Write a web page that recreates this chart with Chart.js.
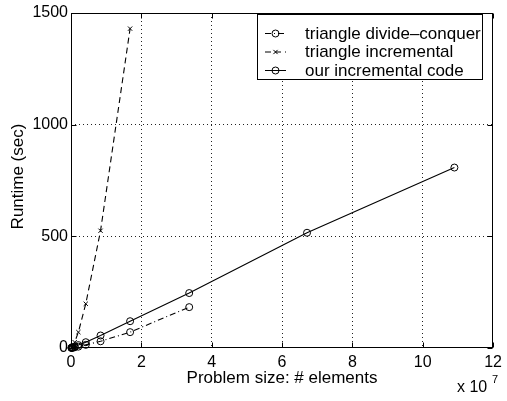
<!DOCTYPE html>
<html><head><meta charset="utf-8">
<script src="https://cdn.jsdelivr.net/npm/chart.js@4.4.0/dist/chart.umd.min.js"></script>
<style>html,body{margin:0;padding:0;background:#fff}#c{display:block}</style>
</head><body>
<canvas id="c" width="507" height="401"></canvas>
<script>
// ---- data ----
const seriesNames = ['triangle divide\u2013conquer', 'triangle incremental', 'our incremental code'];
const dcSizes  = [0.0131e7, 0.0262e7, 0.0524e7, 0.105e7, 0.21e7, 0.42e7, 0.84e7, 1.68e7, 3.36e7];
const dcTimes  = [0.4, 0.8, 1.5, 3, 6, 14, 30, 71, 183];
const tiSizes  = [0.0131e7, 0.0262e7, 0.0524e7, 0.105e7, 0.21e7, 0.42e7, 0.84e7, 1.68e7];
const tiTimes  = [1.5, 4, 10, 26, 71, 198, 525, 1430];
const ourSizes = [0.0131e7, 0.0262e7, 0.0524e7, 0.105e7, 0.21e7, 0.42e7, 0.84e7, 1.68e7, 3.36e7, 6.71e7, 10.9e7];
const ourTimes = [0.8, 1.6, 3, 6, 13, 26, 56, 120, 246, 516, 808];
const xTickLabels = [0, 2, 4, 6, 8, 10, 12];   // x 10^7
const yTickLabels = [0, 500, 1000, 1500];
const xExponent = 7;

const FONT = "'Liberation Sans', Arial, Helvetica, sans-serif";
const pts = (xs, ys) => xs.map((x, i) => ({x, y: ys[i]}));
const X_MAX = xTickLabels[xTickLabels.length - 1] * Math.pow(10, xExponent);
const Y_MAX = yTickLabels[yTickLabels.length - 1];

const styles = [
  {dash: [6, 3, 1, 3], pointStyle: 'circle', radius: 3.5},
  {dash: [6, 4], pointStyle: 'crossRot', radius: 3},
  {dash: [], pointStyle: 'circle', radius: 3.5}
];
const seriesData = [pts(dcSizes, dcTimes), pts(tiSizes, tiTimes), pts(ourSizes, ourTimes)];

const datasets = seriesData.map((d, i) => ({
  label: seriesNames[i],
  data: d,
  showLine: true,
  borderColor: '#000',
  borderWidth: 1.1,
  borderDash: styles[i].dash,
  pointStyle: styles[i].pointStyle,
  pointRadius: styles[i].radius,
  pointHoverRadius: styles[i].radius,
  pointBorderColor: '#000',
  pointBackgroundColor: 'rgba(0,0,0,0)',
  pointBorderWidth: 1,
  backgroundColor: 'rgba(0,0,0,0)',
  fill: false,
  tension: 0,
  clip: 8
}));

const gridColor = (max) => (ctx) => (ctx.tick && (ctx.tick.value === 0 || ctx.tick.value === max)) ? 'rgba(0,0,0,0)' : '#222';

const framePlugin = {
  id: 'frame',
  afterDraw(chart) {
    const ctx = chart.ctx;
    const a = chart.chartArea;
    const xs = chart.scales.x, ys = chart.scales.y;
    ctx.save();
    ctx.setLineDash([]);
    ctx.strokeStyle = '#000';
    ctx.lineWidth = 1;
    const L = Math.round(a.left) + 0.5, R = Math.round(a.right) - 0.5;
    const T = Math.round(a.top) + 0.5, B = Math.round(a.bottom) - 0.5;
    ctx.strokeRect(L, T, R - L, B - T);
    // inward ticks
    const tl = 5;
    ctx.beginPath();
    xTickLabels.forEach(v => {
      const px = Math.round(xs.getPixelForValue(v * Math.pow(10, xExponent))) + 0.5;
      ctx.moveTo(px, B); ctx.lineTo(px, B - tl);
      ctx.moveTo(px, T); ctx.lineTo(px, T + tl);
    });
    yTickLabels.forEach(v => {
      const py = Math.round(ys.getPixelForValue(v)) + 0.5;
      ctx.moveTo(L, py); ctx.lineTo(L + tl, py);
      ctx.moveTo(R, py); ctx.lineTo(R - tl, py);
    });
    ctx.stroke();

    // axis titles
    ctx.fillStyle = '#000';
    ctx.font = '17px ' + FONT;
    ctx.textAlign = 'center';
    ctx.textBaseline = 'middle';
    ctx.fillText('Problem size: # elements', (a.left + a.right) / 2, 378);
    ctx.save();
    ctx.translate(18, (a.top + a.bottom) / 2 - 4);
    ctx.rotate(-Math.PI / 2);
    ctx.fillText('Runtime (sec)', 0, 0);
    ctx.restore();
    // exponent
    ctx.textAlign = 'left';
    ctx.textBaseline = 'alphabetic';
    ctx.font = '16px ' + FONT;
    ctx.fillText('x 10', 457, 392);
    ctx.font = '11px ' + FONT;
    ctx.fillText(String(xExponent), 492, 383);

    // legend
    const lx = 257, ly = 14, lw = 225, lh = 65;
    ctx.fillStyle = '#fff';
    ctx.fillRect(lx, ly, lw, lh);
    ctx.strokeStyle = '#000';
    ctx.strokeRect(lx + 0.5, ly + 0.5, lw, lh);
    const rows = [33, 51.5, 70];
    chart.data.datasets.forEach((ds, i) => {
      const y = rows[i];
      ctx.save();
      ctx.strokeStyle = '#000';
      ctx.lineWidth = 1;
      ctx.setLineDash(ds.borderDash);
      ctx.beginPath();
      ctx.moveTo(265, y + 0.5); ctx.lineTo(286, y + 0.5);
      ctx.stroke();
      ctx.setLineDash([]);
      ctx.fillStyle = 'rgba(0,0,0,0)';
      Chart.helpers.drawPoint(ctx, {pointStyle: ds.pointStyle, radius: ds.pointRadius, borderWidth: 1, rotation: 0}, 275.5, y + 0.5);
      ctx.restore();
      ctx.fillStyle = '#000';
      ctx.font = '17px ' + FONT;
      ctx.textAlign = 'left';
      ctx.textBaseline = 'middle';
      ctx.fillText(ds.label, 305, y + 1);
    });
    ctx.restore();
  }
};

new Chart(document.getElementById('c'), {
  type: 'scatter',
  data: {datasets},
  options: {
    responsive: false,
    animation: false,
    devicePixelRatio: 1,
    layout: {padding: {top: 13, right: 10, left: 0, bottom: 0}},
    plugins: {legend: {display: false}, tooltip: {enabled: false}},
    scales: {
      x: {
        type: 'linear', min: 0, max: X_MAX,
        afterBuildTicks: (s) => { s.ticks = xTickLabels.map(v => ({value: v * Math.pow(10, xExponent)})); },
        afterFit: (s) => { s.height = 53; },
        ticks: {
          callback: (v) => String(Math.round(v / Math.pow(10, xExponent))),
          font: {family: FONT, size: 16}, color: '#000', padding: 5, maxRotation: 0, autoSkip: false
        },
        grid: {color: gridColor(X_MAX), lineWidth: 1, drawTicks: false},
        border: {display: false, dash: [1, 3]}
      },
      y: {
        type: 'linear', min: 0, max: Y_MAX,
        afterBuildTicks: (s) => { s.ticks = yTickLabels.map(v => ({value: v})); },
        afterFit: (s) => { s.width = 71; },
        ticks: {
          callback: (v) => String(v),
          font: {family: FONT, size: 16}, color: '#000', padding: 3, autoSkip: false
        },
        grid: {color: gridColor(Y_MAX), lineWidth: 1, drawTicks: false},
        border: {display: false, dash: [1, 3]}
      }
    }
  },
  plugins: [framePlugin]
});
</script>
</body></html>
